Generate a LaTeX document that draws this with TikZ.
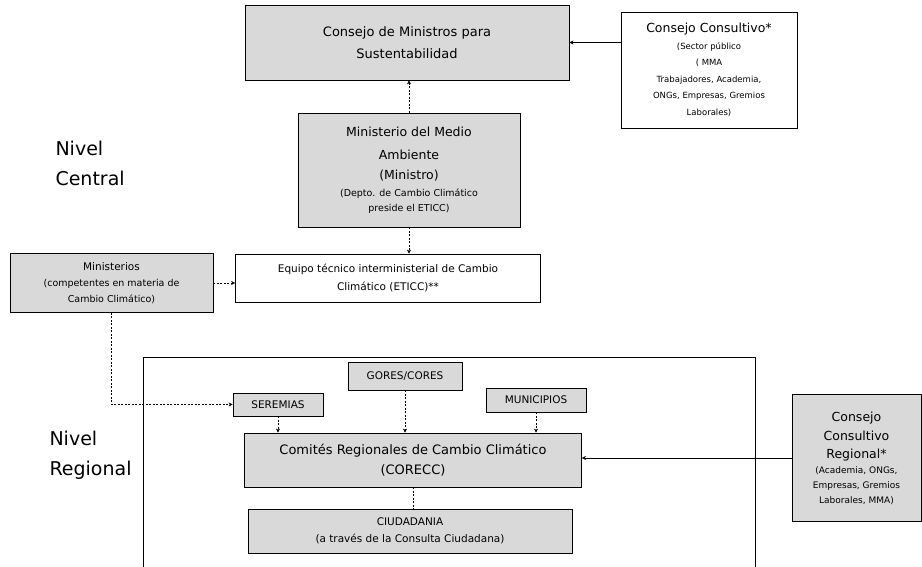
\documentclass[tikz,border=0pt]{standalone}
\usepackage{fontspec}
\setmainfont{DejaVu Sans}
\usepackage{tikz}
\usetikzlibrary{arrows.meta}

\begin{document}
\begin{tikzpicture}[x=1pt,y=-1pt,
  graybox/.style={draw,thick,fill=black!15,inner sep=0pt,align=center},
  whitebox/.style={draw,thick,fill=white,inner sep=0pt,align=center},
  dots/.style={dash pattern=on 2pt off 1.5pt,thin},
  dotarrow/.style={dots,-{Stealth[length=4pt,width=4pt]}},
  fullarrow/.style={thin,-{Stealth[length=4pt,width=4pt]}}]
\useasboundingbox (0,0) rectangle (922,567);
\draw[thick] (143,575) -- (143,357) -- (755,357) -- (755,575);
\node[graybox,minimum width=324,minimum height=75,font=\fontsize{13}{22}\selectfont] (consejomin) at (407,42.5) {Consejo de Ministros para\\Sustentabilidad};
\node[whitebox,minimum width=176,minimum height=116,font=\fontsize{8.5}{16.5}\selectfont] (consultivo) at (709,70) {{\fontsize{12.5}{16.5}\selectfont Consejo Consultivo*}\\(Sector público\\( MMA\\Trabajadores, Academia,\\ONGs, Empresas, Gremios\\Laborales)};
\node[graybox,minimum width=222,minimum height=114,font=\fontsize{9.5}{17}\selectfont] (mma) at (409,170) {{\fontsize{12.5}{17}\selectfont Ministerio del Medio}\\[6pt]{\fontsize{12.5}{17}\selectfont Ambiente}\\[3pt]{\fontsize{12.5}{17}\selectfont (Ministro)}\\(Depto. de Cambio Climático\\[-2pt]preside el ETICC)};
\node[whitebox,minimum width=305,minimum height=48,font=\fontsize{10.5}{18}\selectfont] (eticc) at (388,278) {Equipo técnico interministerial de Cambio\\Climático (ETICC)**};
\node[graybox,minimum width=203,minimum height=59,font=\fontsize{9.5}{16}\selectfont] (ministerios) at (111.5,283) {{\fontsize{10.5}{16}\selectfont Ministerios}\\(competentes en materia de\\Cambio Climático)};
\node[graybox,minimum width=114,minimum height=28,font=\fontsize{10.5}{14}\selectfont] (gores) at (405,376) {GORES/CORES};
\node[graybox,minimum width=90,minimum height=23,font=\fontsize{10.5}{14}\selectfont] (seremias) at (278,404.5) {SEREMIAS};
\node[graybox,minimum width=100,minimum height=24,font=\fontsize{10.5}{14}\selectfont] (municipios) at (536,400) {MUNICIPIOS};
\node[graybox,minimum width=337,minimum height=54,font=\fontsize{13}{20}\selectfont] (corecc) at (413,460) {Comités Regionales de Cambio Climático\\(CORECC)};
\node[graybox,minimum width=324,minimum height=44,font=\fontsize{10.5}{17}\selectfont] (ciudadania) at (410,531) {CIUDADANIA\\(a través de la Consulta Ciudadana)};
\node[graybox,minimum width=129,minimum height=127,font=\fontsize{9}{15}\selectfont] (consreg) at (856.5,458) {{\fontsize{12.5}{15}\selectfont Consejo}\\[4pt]{\fontsize{12.5}{15}\selectfont Consultivo}\\[3pt]{\fontsize{12.5}{15}\selectfont Regional*}\\(Academia, ONGs,\\Empresas, Gremios\\Laborales, MMA)};
\node[align=left,anchor=west,font=\fontsize{19}{30}\selectfont] (central) at (52,163) {Nivel\\Central};
\node[align=left,anchor=west,font=\fontsize{19}{30}\selectfont] (regional) at (46,455) {Nivel\\Regional};
\draw[fullarrow] (consultivo.west |- consejomin.east) -- (consejomin.east);
\draw[dotarrow] (mma.north) -- (mma.north |- consejomin.south);
\draw[dotarrow] (mma.south) -- (mma.south |- eticc.north);
\draw[dotarrow] (ministerios.east) -- (ministerios.east -| eticc.west);
\draw[dotarrow] (ministerios.south) |- (seremias.west);
\draw[dotarrow] (gores.south) -- (gores.south |- corecc.north);
\draw[dotarrow] (seremias.south) -- (seremias.south |- corecc.north);
\draw[dotarrow] (municipios.south) -- (municipios.south |- corecc.north);
\draw[dots] (corecc.south) -- (corecc.south |- ciudadania.north);
\draw[fullarrow] (consreg.west) -- (consreg.west -| corecc.east);
\end{tikzpicture}
\end{document}
